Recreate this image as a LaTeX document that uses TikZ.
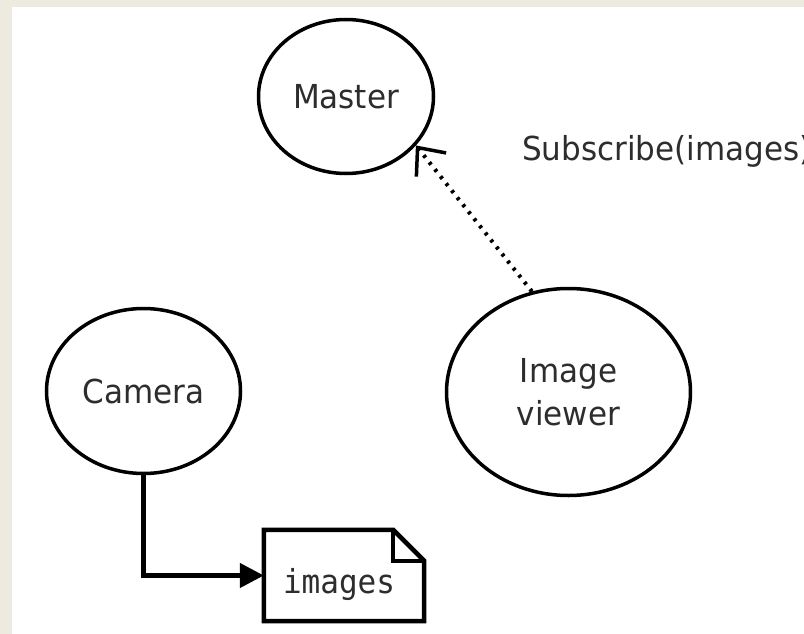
\documentclass[tikz,border=0pt]{standalone}
\usepackage{fontspec}
\setmainfont[FakeStretch=0.94]{DejaVu Sans}
\setmonofont[FakeStretch=0.94]{DejaVu Sans Mono}
\usetikzlibrary{shapes.geometric, arrows.meta}
\definecolor{frame}{RGB}{237,234,224}
\definecolor{ink}{RGB}{45,45,45}
\tikzstyle{process} = [ellipse, draw, line width=3.5pt, inner sep=0pt, text=ink, align=center, font=\fontsize{33}{43}\selectfont]
\tikzstyle{topic} = [rectangle, minimum width=160pt, minimum height=91pt, inner sep=0pt, text width=122pt, align=left, text height=45pt, text depth=10pt, text=ink, font=\ttfamily\fontsize{33}{36}\selectfont]
\tikzstyle{msg} = [inner sep=0pt, text=ink, font=\fontsize{33}{36}\selectfont]
\tikzstyle{outline} = [line width=4.5pt, line join=miter]
\tikzstyle{arrow} = [line width=4.5pt, -{Triangle[length=24pt,width=24pt]}]
\tikzstyle{subarrow} = [line width=4pt, dash pattern=on 3pt off 6pt, -{Straight Barb[length=22pt,width=38pt,line width=3.5pt]}]

\begin{document}
\begin{tikzpicture}[x=1pt, y=-1pt]
            \fill [frame] (0,0) rectangle (804,634);
            \fill [white] (12,7) rectangle (804,634);
            \useasboundingbox (0,0) rectangle (804,634);
            \node [process, minimum width=175pt, minimum height=154pt] at (346,96.5) (master) {Master};
            \node [process, minimum width=194pt, minimum height=165pt] at (143.5,391) (camera) {Camera};
            \node [process, minimum width=244pt, minimum height=207pt] at (568.5,392) (viewer) {Image\\viewer};
            \node [topic] at (344,575.5) (images) {images};
            \node [msg, anchor=west] at (522,151) (subscribe) {Subscribe(images)};
            \draw [outline] (images.north west) -- ([xshift=-31pt]images.north east) -- ([yshift=-31pt]images.north east) -- (images.south east) -- (images.south west) -- cycle;
            \draw [line width=3.5pt] ([xshift=-31pt]images.north east) |- ([yshift=-31pt]images.north east);
            \draw [arrow] (camera.south) |- (images.west);
            \draw [subarrow] (viewer.110) -- (master.-35);
            \end{tikzpicture}
\end{document}
